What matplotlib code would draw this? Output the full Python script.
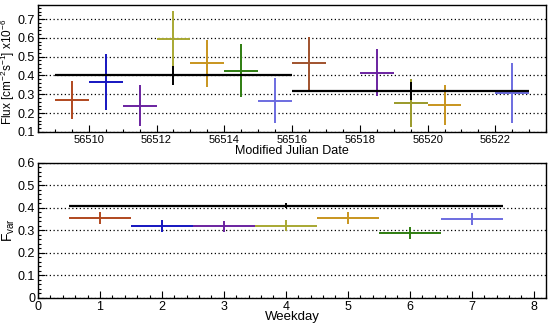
import numpy as np
import matplotlib
matplotlib.use("Agg")
import matplotlib.pyplot as plt
from matplotlib.ticker import MultipleLocator

plt.rcParams['font.family'] = ['Liberation Sans', 'DejaVu Sans']
plt.rcParams['mathtext.default'] = 'regular'

# ── daily flux light curve ────────────────────────────────────────────────────
mjd = [56509.5, 56510.5, 56511.5, 56512.5, 56513.5, 56514.5, 56515.5,
       56516.5, 56518.5, 56519.5, 56520.5, 56522.5]
flux = [0.27, 0.365, 0.24, 0.595, 0.465, 0.425, 0.265,
        0.465, 0.415, 0.252, 0.243, 0.306]
flux_err = [0.10, 0.15, 0.11, 0.15, 0.125, 0.14, 0.12,
            0.14, 0.125, 0.127, 0.107, 0.16]
day_colors = ['#b0481e', '#1515c0', '#6a22a0', '#a8a832', '#c8951e', '#2e7d10',
              '#6c6ce0', '#a0522d', '#6a22a0', '#9a9a2a', '#c8951e', '#6c6ce0']

# weekly averages (black)
wk_start = [56509.0, 56516.0]
wk_end = [56516.0, 56523.0]
wk_flux = [0.400, 0.318]
wk_err = [0.05, 0.048]

# ── F_var per weekday ─────────────────────────────────────────────────────────
weekday = [1, 2, 3, 4, 5, 6, 7]
fvar = [0.355, 0.32, 0.318, 0.322, 0.355, 0.288, 0.35]
fvar_err = [0.028, 0.028, 0.026, 0.026, 0.026, 0.026, 0.026]
wd_colors = ['#b0481e', '#1515c0', '#6a22a0', '#a8a832', '#c8951e', '#2e7d10', '#6c6ce0']
fvar_all = 0.41
fvar_all_err = 0.01

fig = plt.figure(figsize=(5.5, 3.28), dpi=100)
ax1 = fig.add_axes([0.069, 0.598, 0.924, 0.387])
ax2 = fig.add_axes([0.069, 0.0915, 0.924, 0.4116])


def root_style(ax):
    ax.tick_params(which='both', direction='in', top=False, right=False, pad=2)
    ax.tick_params(axis='y', labelsize=9)
    ax.tick_params(which='major', length=5, width=0.8)
    ax.tick_params(which='minor', length=2.5, width=0.8)
    for sp in ax.spines.values():
        sp.set_linewidth(1.0)
    ax.yaxis.grid(True, which='major', linestyle=(0, (1, 2)), color='black', linewidth=0.9)
    ax.set_axisbelow(True)


# top panel
for x, y, e, c in zip(mjd, flux, flux_err, day_colors):
    ax1.errorbar(x, y, xerr=0.5, yerr=e, color=c, lw=1.4, capsize=0, fmt='none')
for s, t, y, e in zip(wk_start, wk_end, wk_flux, wk_err):
    ax1.hlines(y, s, t, color='black', lw=1.6)
    ax1.vlines((s + t) / 2, y - e, y + e, color='black', lw=1.4)
ax1.set_xlim(56508.5, 56523.5)
ax1.set_ylim(0.1, 0.775)
ax1.xaxis.set_major_locator(MultipleLocator(2))
ax1.xaxis.set_minor_locator(MultipleLocator(0.5))
ax1.yaxis.set_major_locator(MultipleLocator(0.1))
ax1.yaxis.set_minor_locator(MultipleLocator(0.02))
ax1.set_xticks([56510, 56512, 56514, 56516, 56518, 56520, 56522])
ax1.ticklabel_format(useOffset=False, style='plain', axis='x')
root_style(ax1)
ax1.tick_params(axis='x', labelsize=8)
ax1.set_xlabel('Modified Julian Date', fontsize=9)
ax1.xaxis.set_label_coords(0.5, -0.1)
ax1.set_ylabel('Flux [cm$^{-2}$s$^{-1}$] x10$^{-6}$', fontsize=8.5)
ax1.yaxis.set_label_coords(-0.041, 0.47)

# bottom panel
for x, y, e, c in zip(weekday, fvar, fvar_err, wd_colors):
    ax2.errorbar(x, y, xerr=0.5, yerr=e, color=c, lw=1.4, capsize=0, fmt='none')
ax2.hlines(fvar_all, 0.5, 7.5, color='black', lw=1.6)
ax2.vlines(4, fvar_all - fvar_all_err, fvar_all + fvar_all_err, color='black', lw=1.4)
ax2.set_xlim(0, 8.2)
ax2.set_ylim(0, 0.6)
ax2.xaxis.set_major_locator(MultipleLocator(1))
ax2.xaxis.set_minor_locator(MultipleLocator(0.2))
ax2.yaxis.set_major_locator(MultipleLocator(0.1))
ax2.yaxis.set_minor_locator(MultipleLocator(0.02))
root_style(ax2)
ax2.tick_params(axis='x', labelsize=9)
ax2.set_yticks([0, 0.1, 0.2, 0.3, 0.4, 0.5, 0.6])
ax2.set_yticklabels(['0', '0.1', '0.2', '0.3', '0.4', '0.5', '0.6'])
ax2.set_xlabel('Weekday', fontsize=9.5)
ax2.xaxis.set_label_coords(0.5, -0.1)
ax2.set_ylabel('F$_{var}$', fontsize=10)
ax2.yaxis.set_label_coords(-0.041, 0.5)

fig.savefig('out.png', dpi=100)
